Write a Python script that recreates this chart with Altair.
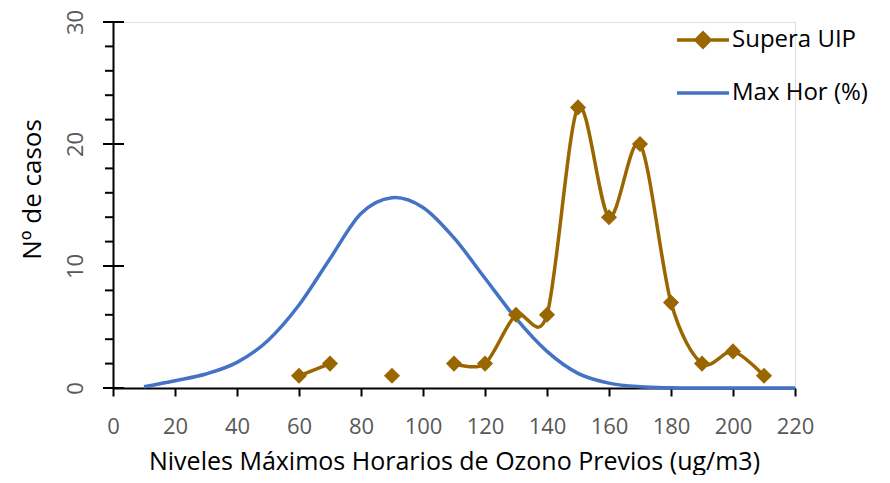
import altair as alt
import pandas as pd

# ---- data -------------------------------------------------------------
uip_x = [60, 70, 90, 110, 120, 130, 140, 150, 160, 170, 180, 190, 200, 210]
uip_y = [1, 2, 1, 2, 2, 6, 6, 23, 14, 20, 7, 2, 3, 1]
uip_seg = [1, 1, 2, 3, 3, 3, 3, 3, 3, 3, 3, 3, 3, 3]  # breaks where 80 and 100 are empty

max_x = [10, 20, 30, 40, 50, 60, 70, 80, 90, 100, 110, 120, 130, 140, 150, 160,
         170, 180, 190, 200, 210, 220]
max_y = [0.1, 0.6, 1.15, 2.1, 3.9, 6.8, 10.6, 14.3, 15.6, 14.8, 12.3, 9.0, 5.7,
         3.0, 1.2, 0.4, 0.1, 0.02, 0, 0, 0, 0]

series_names = ["Supera UIP", "Max Hor (%)"]
series_colors = ["#996600", "#4472C4"]

x_ticks = list(range(0, 221, 10))
y_minor = list(range(0, 31, 2))
y_major = [0, 10, 20, 30]

uip = pd.DataFrame({"x": uip_x, "y": uip_y, "seg": uip_seg, "serie": series_names[0]})
mx = pd.DataFrame({"x": max_x, "y": max_y, "serie": series_names[1]})
minor = pd.DataFrame({"y": y_minor})
major = pd.DataFrame({"y": y_major})

FONT = "Open Sans"
GREY = "#595959"

xscale = alt.Scale(domain=[0, 220], nice=False, zero=False)
yscale = alt.Scale(domain=[0, 30], nice=False)
cscale = alt.Scale(domain=series_names, range=series_colors)

x_enc = alt.X(
    "x:Q", scale=xscale,
    axis=alt.Axis(
        title="Niveles Máximos Horarios de Ozono Previos (ug/m3)",
        values=x_ticks,
        labelExpr="datum.value % 20 == 0 ? datum.label : ''",
        grid=False, domainColor="black", domainWidth=2,
        tickColor="black", tickWidth=2, tickSize=8,
        labelFont=FONT, labelFontSize=22, labelColor=GREY,
        labelBaseline="alphabetic", labelPadding=37, labelFlush=False,
        labelOverlap=False,
        titleFont=FONT, titleFontSize=25, titleFontWeight="normal", titleColor="black",
        titleBaseline="alphabetic", titleX=341, titleY=81,
    ),
)
y_enc = alt.Y(
    "y:Q", scale=yscale,
    axis=alt.Axis(
        title="Nº de casos",
        values=y_major,
        ticks=False,
        grid=False, domainColor="black", domainWidth=2,
        labelFont=FONT, labelFontSize=22, labelColor=GREY,
        labelAngle=270, labelAlign="center", labelBaseline="alphabetic",
        labelPadding=31, labelFlush=False, labelOverlap=False,
        titleFont=FONT, titleFontSize=26, titleFontWeight="normal", titleColor="black",
        titleX=-68, titleY=167,
    ),
)

blue_line = alt.Chart(mx).mark_line(
    strokeWidth=3.5, interpolate="cardinal", color=series_colors[1]
).encode(x=x_enc, y=y_enc)

brown_line = alt.Chart(uip).mark_line(
    strokeWidth=3.5, interpolate="cardinal", tension=0.1
).encode(
    x="x:Q",
    y="y:Q",
    color=alt.Color(
        "serie:N", scale=cscale,
        legend=alt.Legend(
            title=None, orient="none", legendX=562, legendY=-10, padding=0,
            symbolSize=2704, rowPadding=10, labelOffset=1,
            symbolType={"expr": "datum.value == 'Supera UIP' ? 'M-1,0L1,0M0,-0.27L0.27,0L0,0.27L-0.27,0ZM0,-0.14L0.14,0L0,0.14L-0.14,0ZM-0.2,0L0.2,0M0,-0.2L0,0.2' : 'stroke'"},
            symbolStrokeWidth=3.5, symbolOpacity=1,
            labelFont=FONT, labelFontSize=24, labelColor="black", labelLimit=300,
        ),
    ),
    detail="seg:N",
)

points = alt.Chart(uip).mark_point(
    shape="diamond", filled=True, size=260, opacity=1, color=series_colors[0]
).encode(x="x:Q", y="y:Q")

minor_ticks = alt.Chart(minor).mark_rule(color="black", strokeWidth=2).encode(
    y="y:Q", x=alt.value(-8), x2=alt.value(0)
)
major_ticks = alt.Chart(major).mark_rule(color="black", strokeWidth=2).encode(
    y="y:Q", x=alt.value(-10), x2=alt.value(11)
)

chart = alt.layer(blue_line, minor_ticks, major_ticks, brown_line, points).properties(
    width=682, height=366,
    autosize=alt.AutoSizeParams(type="none"),
    padding={"left": 105, "top": 14, "right": 87, "bottom": 87},
).configure_view(stroke="transparent", strokeWidth=0).configure(background="white")

chart.save("out.html", embed_options={"renderer": "svg", "actions": False})
